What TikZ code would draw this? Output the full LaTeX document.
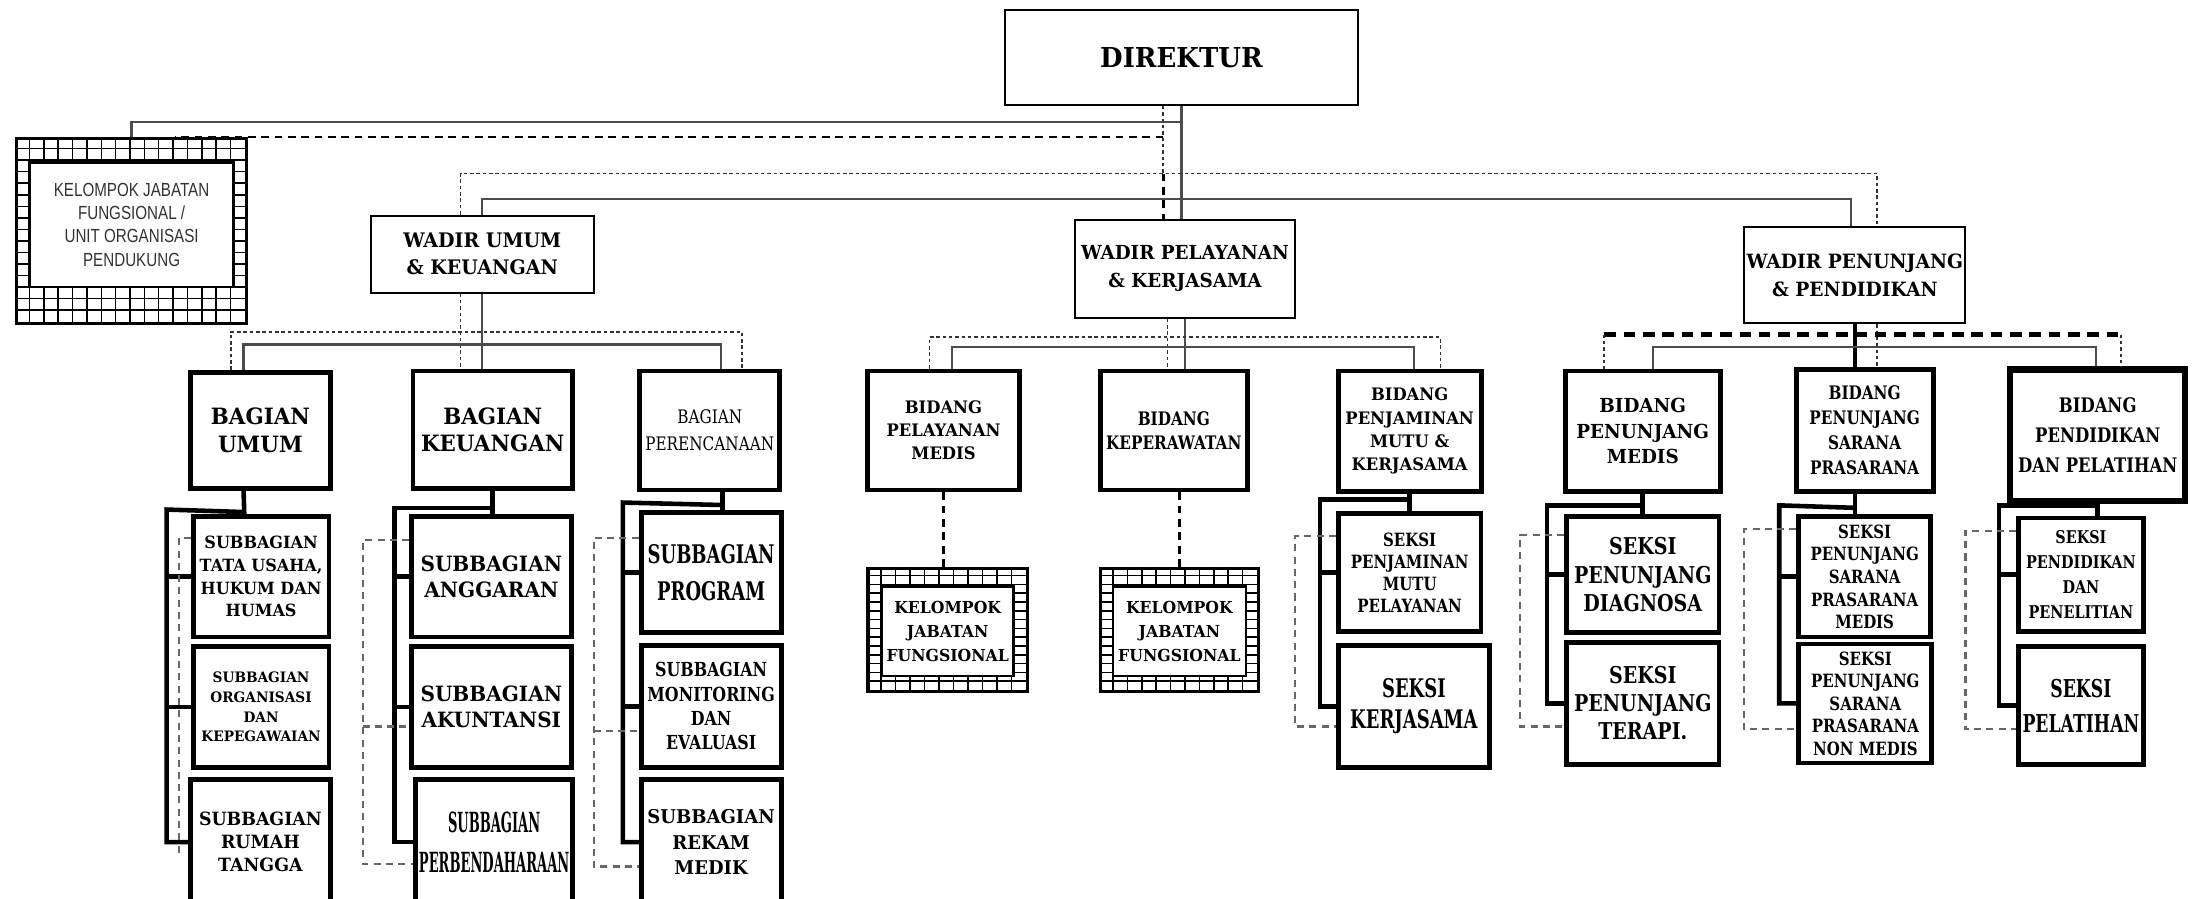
\documentclass[tikz,border=0pt]{standalone}
\usepackage{fontspec}
\setmainfont{DejaVu Serif}[FakeStretch=0.95]
\newfontfamily\fntB{DejaVu Serif}[FakeStretch=0.82]
\newfontfamily\fntC{DejaVu Serif}[FakeStretch=0.7]
\newfontfamily\fntD{DejaVu Serif}[FakeStretch=0.47]
\newfontfamily\fntS{Liberation Sans}[FakeStretch=0.8]
\newcommand\fsz[2]{\fontsize{#1}{#2}\selectfont}
\usetikzlibrary{calc}

\tikzset{
    spans/.style n args={4}{at={({(#1+#3)/2},{(#2+#4)/2})}, minimum width={(#3-#1)*0.014cm}, minimum height={(#4-#2)*0.014cm}},
    topbox/.style={draw, line width=0.55pt, inner sep=0pt, align=center},
    unitbox/.style={draw, line width=1.4pt, inner sep=0pt, align=center},
    subbox/.style={draw, line width=1.35pt, inner sep=0pt, align=center},
    hatchbox/.style={draw, line width=0.9pt, inner sep=0pt},
    innerbox/.style={draw, fill=white, line width=0.75pt, inner sep=0pt, align=center},
    gridln/.style={line width=0.45pt},
    solidln/.style={line width=0.65pt, draw=black!70},
    thicksol/.style={line width=1.2pt},
    dotln/.style={line width=0.5pt, draw=black!80, dash pattern=on 1pt off 0.8pt},
    dashln/.style={line width=0.7pt, dash pattern=on 2.2pt off 1.6pt},
    thickdash/.style={line width=1.2pt, dash pattern=on 3.3pt off 2.2pt},
    brk/.style={line width=1.3pt},
    brkdash/.style={line width=0.6pt, draw=black!60, dash pattern=on 2pt off 1.5pt}
}

\begin{document}
\begin{tikzpicture}[x=0.014cm,y=-0.014cm]
            \clip[use as bounding box] (0,0) rectangle (1568,642);

            \node[topbox, spans={718}{7}{970}{75}, font=\bfseries\fsz{7.8}{9}] (dir) {DIREKTUR};

            \node[hatchbox, spans={12}{99}{176}{231}] (kjfu) {};
            \begin{scope}
                \clip (kjfu.south west) rectangle (kjfu.north east);
                \foreach \i in {1,...,15} \draw[gridln] ($(kjfu.north west)+(\i*10.25,0)$) -- ++(0,132);
                \foreach \j in {1,...,15} \draw[gridln] ($(kjfu.north west)+(0,\j*8.25)$) -- ++(164,0);
            \end{scope}
            \node[innerbox, spans={21}{116}{167}{205}, font=\fntS\fsz{5.4}{6.65}, text=black!80] (kjfuin) {KELOMPOK JABATAN\\FUNGSIONAL /\\UNIT ORGANISASI\\PENDUKUNG};

            \node[topbox, spans={265}{154}{424}{209}, font=\bfseries\fsz{5.7}{7.8}] (wum) {WADIR UMUM\\\& KEUANGAN};
            \node[topbox, spans={768}{157}{925}{227}, font=\bfseries\fsz{5.5}{8}] (wpel) {WADIR PELAYANAN\\\& KERJASAMA};
            \node[topbox, spans={1246}{162}{1404}{231}, font=\bfseries\fsz{5.6}{8}] (wpen) {WADIR PENUNJANG\\\& PENDIDIKAN};

            \node[unitbox, spans={136}{266}{236}{349}, font=\bfseries\fsz{6.4}{7.8}] (bum) {BAGIAN\\UMUM};
            \node[unitbox, spans={295}{265}{409}{349}, font=\bfseries\fsz{6.4}{7.8}] (bkeu) {BAGIAN\\KEUANGAN};
            \node[unitbox, spans={457}{265}{557}{350}, font=\fntB\fsz{5.3}{7.6}] (bper) {BAGIAN\\PERENCANAAN};
            \node[unitbox, spans={620}{265}{728}{350}, font=\bfseries\fsz{4.9}{6.6}] (bpm) {BIDANG\\PELAYANAN\\MEDIS};
            \node[unitbox, spans={786}{265}{891}{350}, font=\fntB\bfseries\fsz{5.3}{6.8}] (bkep) {BIDANG\\KEPERAWATAN};
            \node[unitbox, spans={956}{265}{1058}{351}, font=\bfseries\fsz{4.9}{6.6}] (bpmk) {BIDANG\\PENJAMINAN\\MUTU \&\\KERJASAMA};
            \node[unitbox, spans={1118}{265}{1229}{351}, font=\bfseries\fsz{5.5}{7.2}] (bpnm) {BIDANG\\PENUNJANG\\MEDIS};
            \node[unitbox, spans={1283}{264}{1381}{351}, font=\fntB\bfseries\fsz{5.3}{7.1}] (bpsp) {BIDANG\\PENUNJANG\\SARANA\\PRASARANA};
            \node[unitbox, line width=1.8pt, spans={1436}{264}{1561}{358}, font=\fntB\bfseries\fsz{5.7}{8.5}] (bdik) {BIDANG\\PENDIDIKAN\\DAN PELATIHAN};

            \node[subbox, spans={138}{369}{235}{455}, font=\bfseries\fsz{4.8}{6.45}] (tu1) {SUBBAGIAN\\TATA USAHA,\\HUKUM DAN\\HUMAS};
            \node[subbox, spans={138}{462}{235}{548}, font=\bfseries\fsz{4.1}{5.6}] (tu2) {SUBBAGIAN\\ORGANISASI\\DAN\\KEPEGAWAIAN};
            \node[subbox, spans={136}{557}{236}{646}, font=\bfseries\fsz{5.2}{6.5}] (tu3) {SUBBAGIAN\\RUMAH\\TANGGA};
            \node[subbox, spans={294}{369}{408}{455}, font=\bfseries\fsz{6}{7.3}] (ka1) {SUBBAGIAN\\ANGGARAN};
            \node[subbox, spans={294}{462}{408}{548}, font=\bfseries\fsz{6}{7.3}] (ka2) {SUBBAGIAN\\AKUNTANSI};
            \node[subbox, spans={297}{557}{409}{646}, font=\fntD\bfseries\fsz{7.9}{11.5}] (ka3) {SUBBAGIAN\\PERBENDAHARAAN};
            \node[subbox, spans={458}{366}{558}{452}, font=\fntC\bfseries\fsz{7.3}{10.4}] (pr1) {SUBBAGIAN\\PROGRAM};
            \node[subbox, spans={458}{461}{558}{548}, font=\fntB\bfseries\fsz{5.5}{6.9}] (pr2) {SUBBAGIAN\\MONITORING\\DAN\\EVALUASI};
            \node[subbox, spans={458}{557}{558}{646}, font=\bfseries\fsz{5.4}{7.3}] (pr3) {SUBBAGIAN\\REKAM\\MEDIK};

            \node[hatchbox, spans={620}{406}{734}{494}] (kjf1) {};
            \begin{scope}
                \clip (kjf1.south west) rectangle (kjf1.north east);
                \foreach \i in {1,...,10} \draw[gridln] ($(kjf1.north west)+(\i*10.36,0)$) -- ++(0,88);
                \foreach \j in {1,...,13} \draw[gridln] ($(kjf1.north west)+(0,\j*6.29)$) -- ++(114,0);
            \end{scope}
            \node[innerbox, spans={630}{419}{724}{483}, font=\bfseries\fsz{4.7}{6.9}] (kjf1in) {KELOMPOK\\JABATAN\\FUNGSIONAL};

            \node[hatchbox, spans={786}{406}{899}{494}] (kjf2) {};
            \begin{scope}
                \clip (kjf2.south west) rectangle (kjf2.north east);
                \foreach \i in {1,...,10} \draw[gridln] ($(kjf2.north west)+(\i*10.27,0)$) -- ++(0,88);
                \foreach \j in {1,...,13} \draw[gridln] ($(kjf2.north west)+(0,\j*6.29)$) -- ++(113,0);
            \end{scope}
            \node[innerbox, spans={795}{419}{890}{483}, font=\bfseries\fsz{4.7}{6.9}] (kjf2in) {KELOMPOK\\JABATAN\\FUNGSIONAL};

            \node[subbox, spans={956}{367}{1058}{451}, font=\fntB\bfseries\fsz{5.2}{6.3}] (sj1) {SEKSI\\PENJAMINAN\\MUTU\\PELAYANAN};
            \node[subbox, spans={956}{461}{1064}{548}, font=\fntC\bfseries\fsz{7.3}{9}] (sj2) {SEKSI\\KERJASAMA};
            \node[subbox, spans={1119}{369}{1228}{452}, font=\fntB\bfseries\fsz{6.6}{8}] (sn1) {SEKSI\\PENUNJANG\\DIAGNOSA};
            \node[subbox, spans={1119}{459}{1228}{546}, font=\fntB\bfseries\fsz{6.6}{8}] (sn2) {SEKSI\\PENUNJANG\\TERAPI.};
            \node[subbox, spans={1285}{369}{1379}{455}, font=\fntB\bfseries\fsz{5.2}{6.45}] (ss1) {SEKSI\\PENUNJANG\\SARANA\\PRASARANA\\MEDIS};
            \node[subbox, spans={1285}{460}{1380}{545}, font=\fntB\bfseries\fsz{5.2}{6.4}] (ss2) {SEKSI\\PENUNJANG\\SARANA\\PRASARANA\\NON MEDIS};
            \node[subbox, spans={1442}{370}{1531}{451}, font=\fntB\bfseries\fsz{5}{7.1}] (se1) {SEKSI\\PENDIDIKAN\\DAN\\PENELITIAN};
            \node[subbox, spans={1442}{462}{1531}{546}, font=\fntC\bfseries\fsz{7}{10}] (se2) {SEKSI\\PELATIHAN};

            \coordinate (hA) at (0,87);
            \coordinate (hB) at (0,98);
            \coordinate (hC) at (0,124);
            \coordinate (hD) at (0,142);
            \coordinate (hE) at (0,237);
            \coordinate (hF) at (0,246);
            \coordinate (hG) at (0,241);
            \coordinate (hH) at (0,248);
            \coordinate (hI) at (0,239);
            \coordinate (dirdot) at (831,0);
            \coordinate (kjdot) at (125,0);
            \coordinate (wumdot) at (329,0);
            \coordinate (wpendot) at (1341,0);
            \coordinate (wpensol) at (1322,0);
            \coordinate (bumdot) at (165,0);
            \coordinate (bumsol) at (174,0);
            \coordinate (bperdot) at (530,0);
            \coordinate (bpersol) at (515,0);
            \coordinate (wpeldot) at (834,0);
            \coordinate (bpmdot) at (664,0);
            \coordinate (bpmsol) at (680,0);
            \coordinate (bpmkdot) at (1029,0);
            \coordinate (bpmksol) at (1010,0);
            \coordinate (bpnmdot) at (1146,0);
            \coordinate (bpnmsol) at (1181,0);
            \coordinate (bdikdot) at (1515,0);
            \coordinate (bdiksol) at (1497,0);

            \draw[solidln] (dir.south) -- (dir.south |- wpel.north);
            \draw[dotln] (dir.south -| dirdot) -- (dirdot |- hC);
            \draw[dashln] (dirdot |- hC) -- (wpel.north -| dirdot);
            \draw[solidln] (kjfu.north) |- (dir.south |- hA);
            \draw[dashln] (dirdot |- hB) -- (kjdot |- hB);
            \draw[dotln] (wum.north -| wumdot) |- (wpendot |- hC) -- (wpen.north -| wpendot);
            \draw[solidln] (wum.north) |- (wpensol |- hD) -- (wpen.north -| wpensol);

            \draw[solidln] (wum.south) -- (wum.south |- bkeu.north);
            \draw[dotln] (wum.south -| wumdot) -- (bkeu.north -| wumdot);
            \draw[dotln] (bum.north -| bumdot) |- (bperdot |- hE) -- (bper.north -| bperdot);
            \draw[solidln] (bum.north -| bumsol) |- (bpersol |- hF) -- (bper.north -| bpersol);

            \draw[solidln] (wpel.south) -- (wpel.south |- bkep.north);
            \draw[dotln] (wpel.south -| wpeldot) -- (bkep.north -| wpeldot);
            \draw[dotln] (bpm.north -| bpmdot) |- (bpmkdot |- hG) -- (bpmk.north -| bpmkdot);
            \draw[solidln] (bpm.north -| bpmsol) |- (bpmksol |- hH) -- (bpmk.north -| bpmksol);
            \draw[dashln] (bpm.south) -- (bpm.south |- kjf1.north);
            \draw[dashln] (kjf2.north |- bkep.south) -- (kjf2.north);

            \draw[thicksol] (wpen.south) -- (wpen.south |- bpsp.north);
            \draw[dotln] (wpen.south -| wpendot) -- (bpsp.north -| wpendot);
            \draw[thickdash] (bpnmdot |- hI) -- (bdikdot |- hI);
            \draw[dotln] (bpnmdot |- hI) -- (bpnm.north -| bpnmdot);
            \draw[dotln] (bdikdot |- hI) -- (bdik.north -| bdikdot);
            \draw[solidln] (bpnm.north -| bpnmsol) |- (bdiksol |- hH) -- (bdik.north -| bdiksol);

            \coordinate (umk) at (119,364);
            \coordinate (kek) at (282,363);
            \coordinate (pek) at (445,359);
            \coordinate (jk) at (943,357);
            \coordinate (nk) at (1105,361);
            \coordinate (sk) at (1271,361);
            \coordinate (ek) at (1428,361);

            \draw[brk] ($(bum.south)+(-12,0)$) -- ($(tu1.north)+(-12,0)$);
            \draw[brk] ($(bum.south)+(-12,15)$) -- (umk) |- (tu3.west);
            \draw[brk] (umk |- tu1.west) -- (tu1.west);
            \draw[brk] (umk |- tu2.west) -- (tu2.west);

            \draw[brk] (bkeu.south) -- (bkeu.south |- ka1.north);
            \draw[brk] (bkeu.south |- kek) -- (kek) |- (ka3.west);
            \draw[brk] (kek |- ka1.west) -- (ka1.west);
            \draw[brk] (kek |- ka2.west) -- (ka2.west);

            \draw[brk] ($(bper.south)+(9,0)$) -- ($(pr1.north)+(8,0)$);
            \draw[brk] ($(bper.south)+(9,9)$) -- (pek) |- (pr3.west);
            \draw[brk] (pek |- pr1.west) -- (pr1.west);
            \draw[brk] (pek |- pr2.west) -- (pr2.west);

            \draw[brk] (bpmk.south) -- (bpmk.south |- sj1.north);
            \draw[brk] (bpmk.south |- jk) -- (jk) |- (sj2.west);
            \draw[brk] (jk |- sj1.west) -- (sj1.west);

            \draw[brk] (bpnm.south) -- (bpnm.south |- sn1.north);
            \draw[brk] (bpnm.south |- nk) -- (nk) |- (sn2.west);
            \draw[brk] (nk |- sn1.west) -- (sn1.west);

            \draw[brk] ($(bpsp.south)+(-7,0)$) -- ($(bpsp.south)+(-7,18)$);
            \draw[brk] ($(bpsp.south)+(-7,10)$) -- (sk) |- (ss2.west);
            \draw[brk] (sk |- ss1.west) -- (ss1.west);

            \draw[brk] (bdik.south) -- (bdik.south |- se1.north);
            \draw[brk] (bdik.south |- ek) -- (ek) |- (se2.west);
            \draw[brk] (ek |- se1.west) -- (se1.west);

            \coordinate (umd) at (128,384);
            \coordinate (umde) at (128,611);
            \coordinate (kd) at (259,386);
            \coordinate (kdm) at (259,519);
            \coordinate (kde) at (259,617);
            \coordinate (pd) at (424,384);
            \coordinate (pdm) at (424,522);
            \coordinate (pde) at (424,619);
            \coordinate (jd) at (925,383);
            \coordinate (jde) at (925,519);
            \coordinate (nd) at (1086,382);
            \coordinate (nde) at (1086,519);
            \coordinate (sd) at (1246,378);
            \coordinate (sde) at (1246,521);
            \coordinate (ed) at (1404,379);
            \coordinate (ede) at (1404,521);

            \draw[brkdash] (tu1.west |- umd) -- (umd) -- (umde);
            \draw[brkdash] (ka1.west |- kd) -- (kd) |- (ka3.west |- kde);
            \draw[brkdash] (kdm) -- (ka2.west |- kdm);
            \draw[brkdash] (pr1.west |- pd) -- (pd) |- (pr3.west |- pde);
            \draw[brkdash] (pdm) -- (pr2.west |- pdm);
            \draw[brkdash] (sj1.west |- jd) -- (jd) |- (sj2.west |- jde);
            \draw[brkdash] (sn1.west |- nd) -- (nd) |- (sn2.west |- nde);
            \draw[brkdash] (ss1.west |- sd) -- (sd) |- (ss2.west |- sde);
            \draw[brkdash] (se1.west |- ed) -- (ed) |- (se2.west |- ede);
        \end{tikzpicture}
\end{document}
